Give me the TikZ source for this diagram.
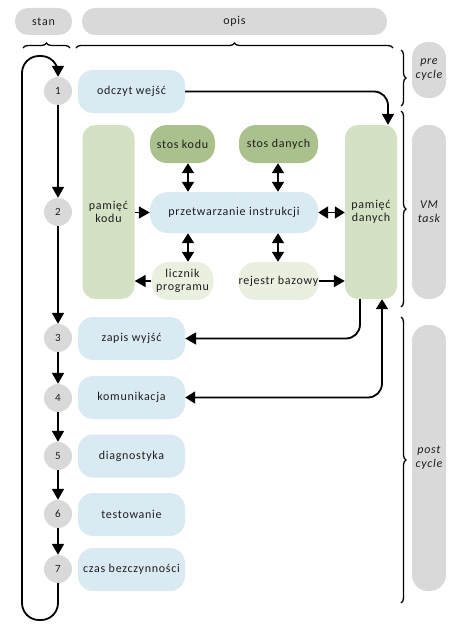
\documentclass[tikz,border=0pt]{standalone}
\usepackage{fontspec}
\setmainfont[LetterSpace=6]{Carlito}
\usetikzlibrary{arrows.meta,decorations.pathreplacing,calc}
\definecolor{pgray}{HTML}{D9D9D9}
\definecolor{pblue}{HTML}{DAEAF2}
\definecolor{gdark}{HTML}{AAC18D}
\definecolor{gmid}{HTML}{D5E1C3}
\definecolor{glight}{HTML}{EAF0E0}
\definecolor{txt}{HTML}{1E1E1E}
\begin{document}
\begin{tikzpicture}[x=1pt,y=-1pt,
  every node/.style={font=\fontsize{12}{13.5}\selectfont, text=txt, align=center, inner sep=0pt},
  hdr/.style={fill=pgray, rounded corners=13pt, minimum height=27pt},
  side/.style={fill=pgray, rounded corners=16pt, minimum width=34pt, font=\fontsize{12}{14}\selectfont\itshape},
  state/.style={circle, fill=pgray, minimum size=28pt, font=\fontsize{11}{12}\selectfont},
  task/.style={fill=pblue, rounded corners=15pt, minimum width=107pt, minimum height=43pt},
  gtall/.style={fill=gmid, rounded corners=13pt, minimum width=52pt, minimum height=174pt},
  gstack/.style={fill=gdark, rounded corners=17pt, minimum height=38pt},
  greg/.style={fill=glight, rounded corners=17pt, minimum height=38pt},
  proc/.style={fill=pblue, rounded corners=18pt, minimum width=168pt, minimum height=41pt},
  arr/.style={line width=1.8pt, -{Triangle[length=11pt,width=12pt]}},
  dbl/.style={line width=1.8pt, {Triangle[length=10pt,width=12pt]}-{Triangle[length=10pt,width=12pt]}},
  brc/.style={line width=1.3pt, decorate, decoration={brace, amplitude=5pt}}
]
\useasboundingbox (0,0) rectangle (461,626);

% headers
\node[hdr, minimum width=57pt] (stan) at (43.5,21.5) {stan};
\node[hdr, minimum width=305pt] (opis) at (234.5,21.5) {opis};
\draw[brc] (23,48) -- (70,48);
\draw[brc] (76,48) -- (393,48);

% side labels
\node[side, minimum height=56pt] (pre) at (429,70) {pre\\cycle};
\node[side, minimum height=174pt] (vm) at (429,212) {VM\\task};
\node[side, minimum height=266pt] (post) at (429,458) {post\\cycle};
\draw[brc] (401,50) -- (401,106);
\draw[brc] (401,111) -- (401,307);
\draw[brc] (401,317) -- (401,603);

% states
\node[state] (c1) at (58,91) {1};
\node[state] (c2) at (58,212) {2};
\node[state] (c3) at (58,338) {3};
\node[state] (c4) at (58,398) {4};
\node[state] (c5) at (58,456) {5};
\node[state] (c6) at (58,514) {6};
\node[state] (c7) at (58,569) {7};

% tasks
\node[task] (od) at (131.5,91.5) {odczyt wejść};
\node[task] (zw) at (131.5,338.5) {zapis wyjść};
\node[task] (km) at (131.5,397.5) {komunikacja};
\node[task] (dg) at (131.5,456) {diagnostyka};
\node[task] (ts) at (131.5,514.5) {testowanie};
\node[task] (cb) at (131.5,569.5) {czas bezczynności};

% VM block
\node[gtall] (pk) at (108.5,212) {pamięć\\kodu};
\node[gtall] (pd) at (371,212) {pamięć\\danych};
\node[gstack, minimum width=65pt] (sk) at (182.5,144) {stos kodu};
\node[gstack, minimum width=79pt] (sd) at (278.5,144) {stos danych};
\node[proc] (pi) at (234,212.5) {przetwarzanie instrukcji};
\node[greg, minimum width=62pt] (lp) at (182.5,281) {licznik\\programu};
\node[greg, minimum width=79pt] (rb) at (278.5,281) {rejestr bazowy};

\coordinate (ax1) at (188,0);
\coordinate (ax2) at (278,0);
\coordinate (ay) at (0,281);

% VM arrows
\draw[dbl] (sk.south -| ax1) -- (pi.north -| ax1);
\draw[dbl] (sd.south -| ax2) -- (pi.north -| ax2);
\draw[dbl] (pi.south -| ax1) -- (lp.north -| ax1);
\draw[dbl] (pi.south -| ax2) -- (rb.north -| ax2);
\draw[arr] (pk.east |- pi.west) -- (pi.west);
\draw[dbl] (pi.east) -- (pd.west |- pi.east);
\draw[arr] (lp.west |- ay) -- (pk.east |- ay);
\draw[arr] (rb.east |- ay) -- (pd.west |- ay);

% state chain
\draw[arr] (c1) -- (c2);
\draw[arr] (c2) -- (c3);
\draw[arr] (c3) -- (c4);
\draw[arr] (c4) -- (c5);
\draw[arr] (c5) -- (c6);
\draw[arr] (c6) -- (c7);

% loop
\coordinate (lb1) at (58,620);
\coordinate (lb2) at (22,620);
\coordinate (lt1) at (22,56);
\coordinate (lt2) at (58,56);
\draw[arr, rounded corners=17pt] (c7.south) -- (lb1) -- (lb2) -- (lt1) -- (lt2) -- (c1.north);

% external connectors
\draw[arr, rounded corners=14pt] (od.east) -| ([xshift=17pt]pd.north);
\draw[arr, rounded corners=14pt] ([xshift=-11pt]pd.south) |- (zw.east);
\draw[dbl, rounded corners=14pt] (km.east) -| ([xshift=11pt]pd.south);
\end{tikzpicture}
\end{document}
